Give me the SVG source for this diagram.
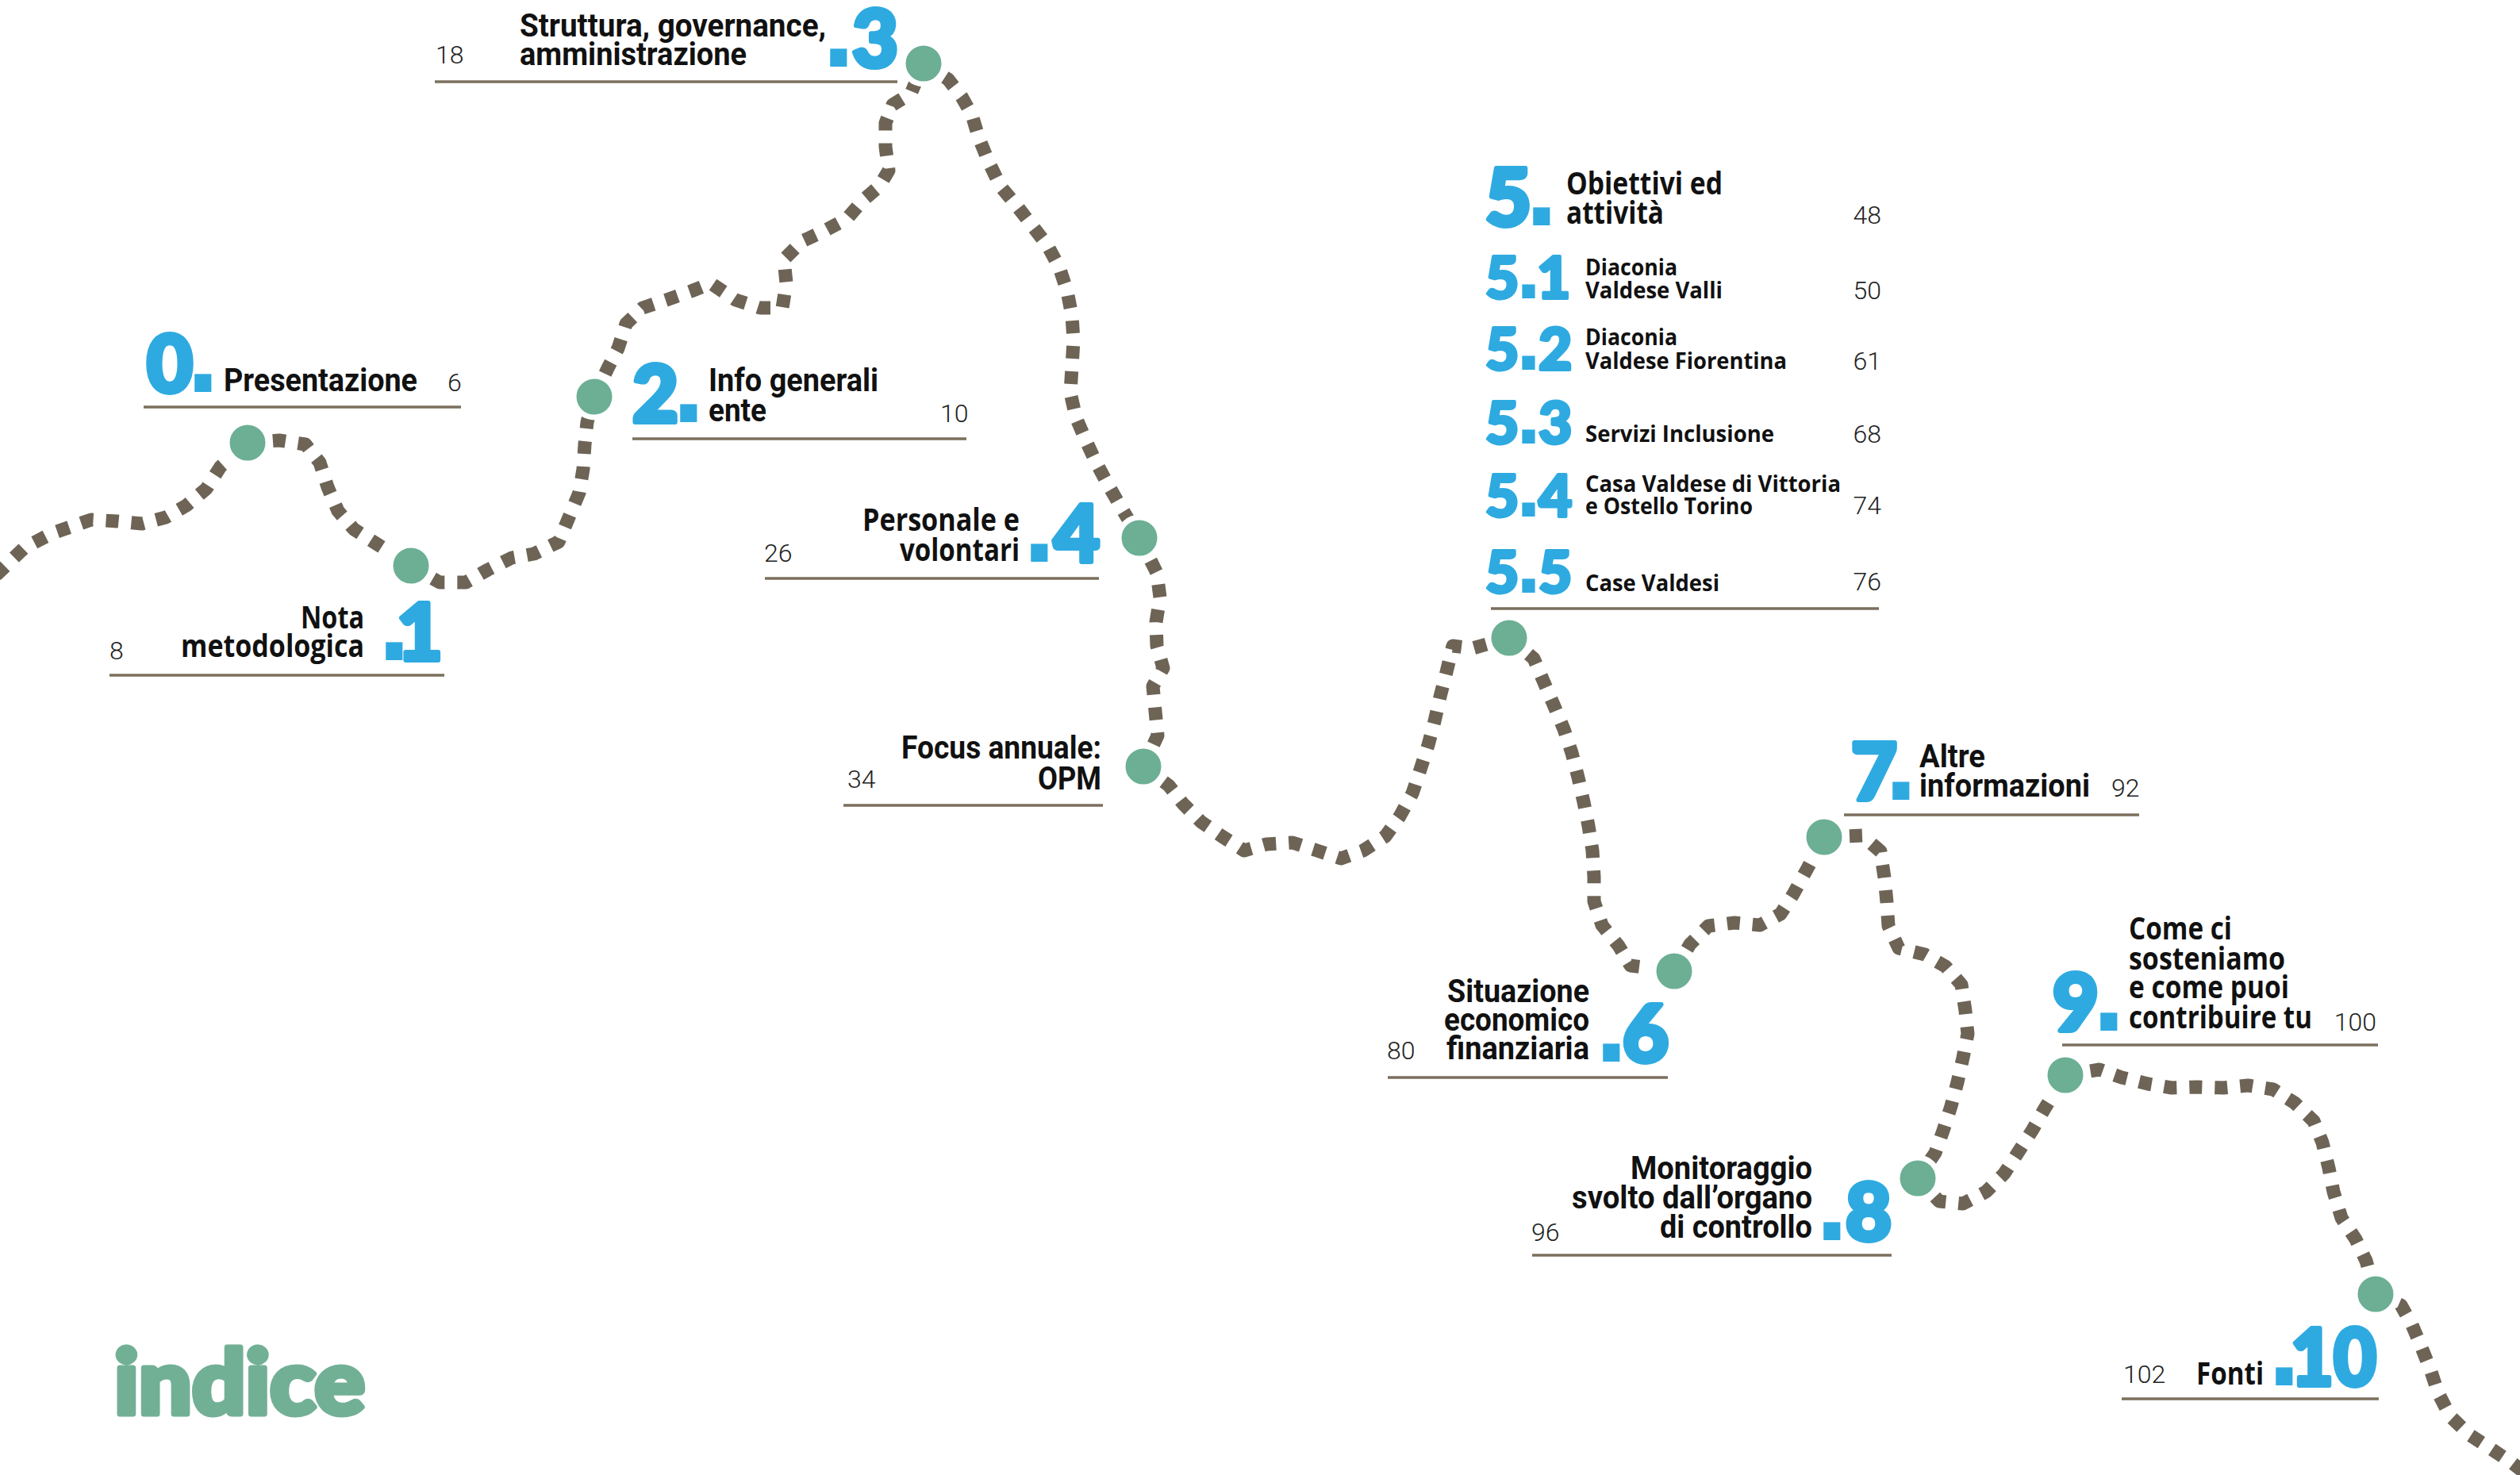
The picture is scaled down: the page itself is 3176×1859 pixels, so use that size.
<svg xmlns="http://www.w3.org/2000/svg" width="3176" height="1859" viewBox="0 0 3176 1859">
<style>
.bg{fill:#ffffff}
.path{fill:none;stroke:#6e6456;stroke-width:17;stroke-dasharray:16 16;stroke-linejoin:round}
.node{fill:#6caf94;stroke:#ffffff;stroke-width:7}
.rule{stroke:#7b6f5d;stroke-width:3.5}
.t{font-family:"Roboto","Liberation Sans",sans-serif;font-weight:700;font-size:40px;fill:#111111}
.w{font-family:"Open Sans","Liberation Sans",sans-serif;font-weight:700;font-size:39px;fill:#111111}
.ws{font-family:"Open Sans","Liberation Sans",sans-serif;font-weight:700;font-size:29px;fill:#111111}
.pg{font-family:"Roboto","Liberation Sans",sans-serif;font-weight:300;font-size:32px;fill:#222222}
.n{font-family:"Lato","Inter","Roboto",sans-serif;font-weight:900;font-size:100px;fill:#2eaae1;stroke:#2eaae1;stroke-width:6;stroke-linejoin:round}
.ns{font-family:"Lato","Inter","Roboto",sans-serif;font-weight:900;font-size:73px;fill:#2eaae1;stroke:#2eaae1;stroke-width:4;stroke-linejoin:round}
.d{font-family:"DejaVu Sans",sans-serif;font-weight:700;font-size:120px;stroke-width:0}
.ds{font-family:"DejaVu Sans",sans-serif;font-weight:700;font-size:92px;stroke-width:0}
.title{font-family:"Lato","Inter","Roboto",sans-serif;font-weight:900;font-size:112px;fill:#72b095;stroke:#72b095;stroke-width:7;stroke-linejoin:round}
</style>
<rect class="bg" x="0" y="0" width="3176" height="1859"/>

<g id="connectors">
<path class="path" d="M -5 725 L 31 690 L 66 672 L 115 655 L 148 657 L 179 660 L 209 652 L 235 637 L 260 616 L 278 588 L 312 558"/>
<path class="path" d="M 312 558 L 352 555 L 385 560 L 403 583 L 413 614 L 426 644 L 446 667 L 474 685 L 518 713"/>
<path class="path" d="M 518 713 L 554 734 L 587 734 L 615 718 L 645 703 L 673 698 L 704 683 L 717 652 L 730 621 L 735 591 L 737 560 L 740 532 L 749 500"/>
<path class="path" d="M 749 500 L 766 464 L 779 439 L 789 408 L 810 388 L 840 378 L 871 367 L 896 357 L 927 378 L 958 388 L 986 388 L 991 357 L 988 327 L 1011 304 L 1039 291 L 1067 276 L 1088 252 L 1108 235 L 1120 215 L 1116 185 L 1116 155 L 1125 132 L 1148 118 L 1164 80"/>
<path class="path" d="M 1164 80 L 1195 100 L 1212 122 L 1225 145 L 1233 172 L 1246 204 L 1261 235 L 1282 260 L 1302 286 L 1320 309 L 1335 337 L 1345 367 L 1351 398 L 1353 429 L 1351 462 L 1349 495 L 1356 526 L 1368 554 L 1381 582 L 1396 610 L 1412 638 L 1436 678"/>
<path class="path" d="M 1436 678 L 1458 722 L 1462 753 L 1457 784 L 1458 814 L 1466 842 L 1453 865 L 1456 896 L 1459 927 L 1441 966"/>
<path class="path" d="M 1441 966 L 1473 990 L 1491 1013 L 1514 1036 L 1540 1054 L 1568 1072 L 1596 1064 L 1629 1062 L 1660 1072 L 1690 1082 L 1718 1072 L 1746 1054 L 1764 1029 L 1780 1000 L 1790 970 L 1800 939 L 1808 909 L 1815 878 L 1823 847 L 1831 814 L 1856 817 L 1902 804"/>
<path class="path" d="M 1902 804 L 1933 830 L 1945 858 L 1958 888 L 1971 919 L 1981 949 L 1989 980 L 1996 1011 L 2002 1041 L 2007 1072 L 2009 1105 L 2009 1136 L 2019 1166 L 2040 1192 L 2055 1217 L 2110 1224"/>
<path class="path" d="M 2110 1224 L 2130 1190 L 2153 1167 L 2186 1163 L 2218 1166 L 2244 1152 L 2260 1127 L 2276 1098 L 2299 1055"/>
<path class="path" d="M 2299 1055 L 2347 1053 L 2370 1073 L 2375 1106 L 2378 1137 L 2380 1167 L 2393 1195 L 2426 1203 L 2452 1218 L 2472 1241 L 2477 1274 L 2480 1303 L 2474 1333 L 2467 1364 L 2459 1394 L 2449 1425 L 2439 1453 L 2417 1485"/>
<path class="path" d="M 2417 1485 L 2444 1514 L 2474 1517 L 2503 1502 L 2526 1479 L 2543 1453 L 2561 1425 L 2577 1397 L 2603 1355"/>
<path class="path" d="M 2603 1355 L 2646 1348 L 2674 1358 L 2707 1366 L 2737 1371 L 2770 1370 L 2802 1371 L 2833 1368 L 2865 1373 L 2892 1390 L 2916 1413 L 2927 1440 L 2935 1472 L 2941 1502 L 2951 1535 L 2969 1562 L 2982 1589 L 2994 1631"/>
<path class="path" d="M 2994 1631 L 3026 1645 L 3040 1670 L 3051 1696 L 3063 1726 L 3073 1756 L 3088 1785 L 3112 1808 L 3138 1825 L 3165 1843 L 3190 1862"/>
</g>

<g id="node-0">
<line class="rule" x1="181" y1="513" x2="581" y2="513"/>
<text class="n" x="185" y="494">0<tspan class="d" x="233">.</tspan></text>
<text class="t" x="282" y="493" textLength="244" lengthAdjust="spacingAndGlyphs">Presentazione</text>
<text class="pg" x="564" y="493">6</text>
<circle class="node" cx="312" cy="558" r="26"/>
</g>

<g id="node-1">
<line class="rule" x1="138" y1="851" x2="560" y2="851"/>
<text class="w" x="459" y="792" text-anchor="end" textLength="80" lengthAdjust="spacingAndGlyphs">Nota</text>
<text class="w" x="459" y="828" text-anchor="end" textLength="231" lengthAdjust="spacingAndGlyphs">metodologica</text>
<text class="n" y="832"><tspan class="d" x="474">.</tspan><tspan x="500">1</tspan></text>
<text class="pg" x="138" y="831">8</text>
<circle class="node" cx="518" cy="713" r="26"/>
</g>

<g id="node-2">
<line class="rule" x1="797" y1="553" x2="1218" y2="553"/>
<text class="n" x="797" y="532">2<tspan class="d" x="845">.</tspan></text>
<text class="t" x="893" y="493" textLength="214" lengthAdjust="spacingAndGlyphs">Info generali</text>
<text class="t" x="893" y="531" textLength="73" lengthAdjust="spacingAndGlyphs">ente</text>
<text class="pg" x="1185" y="532">10</text>
<circle class="node" cx="749" cy="500" r="26"/>
</g>

<g id="node-3">
<line class="rule" x1="548" y1="103" x2="1131" y2="103"/>
<text class="t" x="655" y="46" textLength="386" lengthAdjust="spacingAndGlyphs">Struttura, governance,</text>
<text class="t" x="655" y="82" textLength="286" lengthAdjust="spacingAndGlyphs">amministrazione</text>
<text class="n" y="84"><tspan class="d" x="1034">.</tspan><tspan x="1074">3</tspan></text>
<text class="pg" x="549" y="80">18</text>
<circle class="node" cx="1164" cy="80" r="26"/>
</g>

<g id="node-4">
<line class="rule" x1="964" y1="729" x2="1385" y2="729"/>
<text class="w" x="1285" y="669" text-anchor="end" textLength="198" lengthAdjust="spacingAndGlyphs">Personale e</text>
<text class="w" x="1285" y="707" text-anchor="end" textLength="151" lengthAdjust="spacingAndGlyphs">volontari</text>
<text class="n" y="708"><tspan class="d" x="1287">.</tspan><tspan x="1328">4</tspan></text>
<text class="pg" x="963" y="708">26</text>
<circle class="node" cx="1436" cy="678" r="26"/>
</g>

<g id="node-focus">
<line class="rule" x1="1063" y1="1015" x2="1390" y2="1015"/>
<text class="t" x="1388" y="956" text-anchor="end" textLength="252" lengthAdjust="spacingAndGlyphs">Focus annuale:</text>
<text class="t" x="1388" y="995" text-anchor="end" textLength="80" lengthAdjust="spacingAndGlyphs">OPM</text>
<text class="pg" x="1068" y="993">34</text>
<circle class="node" cx="1441" cy="966" r="26"/>
</g>

<g id="node-5">
<line class="rule" x1="1879" y1="767" x2="2368" y2="767"/>
<text class="n" x="1872" y="284">5<tspan class="d" x="1920">.</tspan></text>
<text class="w" x="1974" y="245" font-size="37" textLength="197" lengthAdjust="spacingAndGlyphs">Obiettivi ed</text>
<text class="w" x="1974" y="282" font-size="37" textLength="123" lengthAdjust="spacingAndGlyphs">attività</text>
<text class="pg" x="2371" y="282" text-anchor="end">48</text>

<text class="ns" y="376"><tspan x="1872">5</tspan><tspan class="ds" x="1909">.</tspan><tspan x="1937">1</tspan></text>
<text class="ws" x="1998" y="347" textLength="116" lengthAdjust="spacingAndGlyphs">Diaconia</text>
<text class="ws" x="1998" y="376" textLength="173" lengthAdjust="spacingAndGlyphs">Valdese Valli</text>
<text class="pg" x="2371" y="377" text-anchor="end">50</text>

<text class="ns" y="466"><tspan x="1872">5</tspan><tspan class="ds" x="1909">.</tspan><tspan x="1939">2</tspan></text>
<text class="ws" x="1998" y="435" textLength="116" lengthAdjust="spacingAndGlyphs">Diaconia</text>
<text class="ws" x="1998" y="465" textLength="254" lengthAdjust="spacingAndGlyphs">Valdese Fiorentina</text>
<text class="pg" x="2371" y="466" text-anchor="end">61</text>

<text class="ns" y="559"><tspan x="1872">5</tspan><tspan class="ds" x="1909">.</tspan><tspan x="1939">3</tspan></text>
<text class="ws" x="1998" y="557" textLength="238" lengthAdjust="spacingAndGlyphs">Servizi Inclusione</text>
<text class="pg" x="2371" y="558" text-anchor="end">68</text>

<text class="ns" y="651"><tspan x="1872">5</tspan><tspan class="ds" x="1909">.</tspan><tspan x="1939">4</tspan></text>
<text class="ws" x="1998" y="620" textLength="322" lengthAdjust="spacingAndGlyphs">Casa Valdese di Vittoria</text>
<text class="ws" x="1998" y="648" textLength="211" lengthAdjust="spacingAndGlyphs">e Ostello Torino</text>
<text class="pg" x="2371" y="648" text-anchor="end">74</text>

<text class="ns" y="747"><tspan x="1872">5</tspan><tspan class="ds" x="1909">.</tspan><tspan x="1939">5</tspan></text>
<text class="ws" x="1998" y="745" textLength="169" lengthAdjust="spacingAndGlyphs">Case Valdesi</text>
<text class="pg" x="2371" y="744" text-anchor="end">76</text>
<circle class="node" cx="1902" cy="804" r="26"/>
</g>

<g id="node-6">
<line class="rule" x1="1749" y1="1358" x2="2102" y2="1358"/>
<text class="t" x="2003" y="1263" text-anchor="end" textLength="179" lengthAdjust="spacingAndGlyphs">Situazione</text>
<text class="t" x="2003" y="1299" text-anchor="end" textLength="183" lengthAdjust="spacingAndGlyphs">economico</text>
<text class="t" x="2003" y="1335" text-anchor="end" textLength="180" lengthAdjust="spacingAndGlyphs">finanziaria</text>
<text class="n" y="1338"><tspan class="d" x="2008">.</tspan><tspan x="2045">6</tspan></text>
<text class="pg" x="1748" y="1335">80</text>
<circle class="node" cx="2110" cy="1224" r="26"/>
</g>

<g id="node-7">
<line class="rule" x1="2324" y1="1027" x2="2696" y2="1027"/>
<text class="n" x="2333" y="1008">7<tspan class="d" x="2373">.</tspan></text>
<text class="t" x="2419" y="967" textLength="83" lengthAdjust="spacingAndGlyphs">Altre</text>
<text class="t" x="2419" y="1004" textLength="215" lengthAdjust="spacingAndGlyphs">informazioni</text>
<text class="pg" x="2661" y="1004">92</text>
<circle class="node" cx="2299" cy="1055" r="26"/>
</g>

<g id="node-8">
<line class="rule" x1="1931" y1="1582" x2="2384" y2="1582"/>
<text class="t" x="2284" y="1486" text-anchor="end" textLength="229" lengthAdjust="spacingAndGlyphs">Monitoraggio</text>
<text class="t" x="2284" y="1523" text-anchor="end" textLength="303" lengthAdjust="spacingAndGlyphs">svolto dall’organo</text>
<text class="t" x="2284" y="1560" text-anchor="end" textLength="192" lengthAdjust="spacingAndGlyphs">di controllo</text>
<text class="n" y="1563"><tspan class="d" x="2286">.</tspan><tspan x="2326">8</tspan></text>
<text class="pg" x="1930" y="1564">96</text>
<circle class="node" cx="2417" cy="1485" r="26"/>
</g>

<g id="node-9">
<line class="rule" x1="2599" y1="1317" x2="2997" y2="1317"/>
<text class="n" x="2587" y="1299">9<tspan class="d" x="2635">.</tspan></text>
<text class="w" x="2683" y="1184" font-size="36" textLength="130" lengthAdjust="spacingAndGlyphs">Come ci</text>
<text class="w" x="2683" y="1222" font-size="36" textLength="197" lengthAdjust="spacingAndGlyphs">sosteniamo</text>
<text class="w" x="2683" y="1258" font-size="36" textLength="202" lengthAdjust="spacingAndGlyphs">e come puoi</text>
<text class="w" x="2683" y="1296" font-size="36" textLength="231" lengthAdjust="spacingAndGlyphs">contribuire tu</text>
<text class="pg" x="2995" y="1299" text-anchor="end">100</text>
<circle class="node" cx="2603" cy="1355" r="26"/>
</g>

<g id="node-10">
<line class="rule" x1="2674" y1="1763" x2="2998" y2="1763"/>
<text class="w" x="2768" y="1745" font-size="37" textLength="85" lengthAdjust="spacingAndGlyphs">Fonti</text>
<text class="n" y="1746"><tspan class="d" x="2856">.</tspan><tspan x="2887" textLength="108" lengthAdjust="spacingAndGlyphs">10</tspan></text>
<text class="pg" x="2676" y="1743">102</text>
<circle class="node" cx="2994" cy="1631" r="26"/>
</g>

<g id="heading">
<text class="title" x="144" y="1782" textLength="316" lengthAdjust="spacingAndGlyphs">indice</text>
</g>
</svg>
